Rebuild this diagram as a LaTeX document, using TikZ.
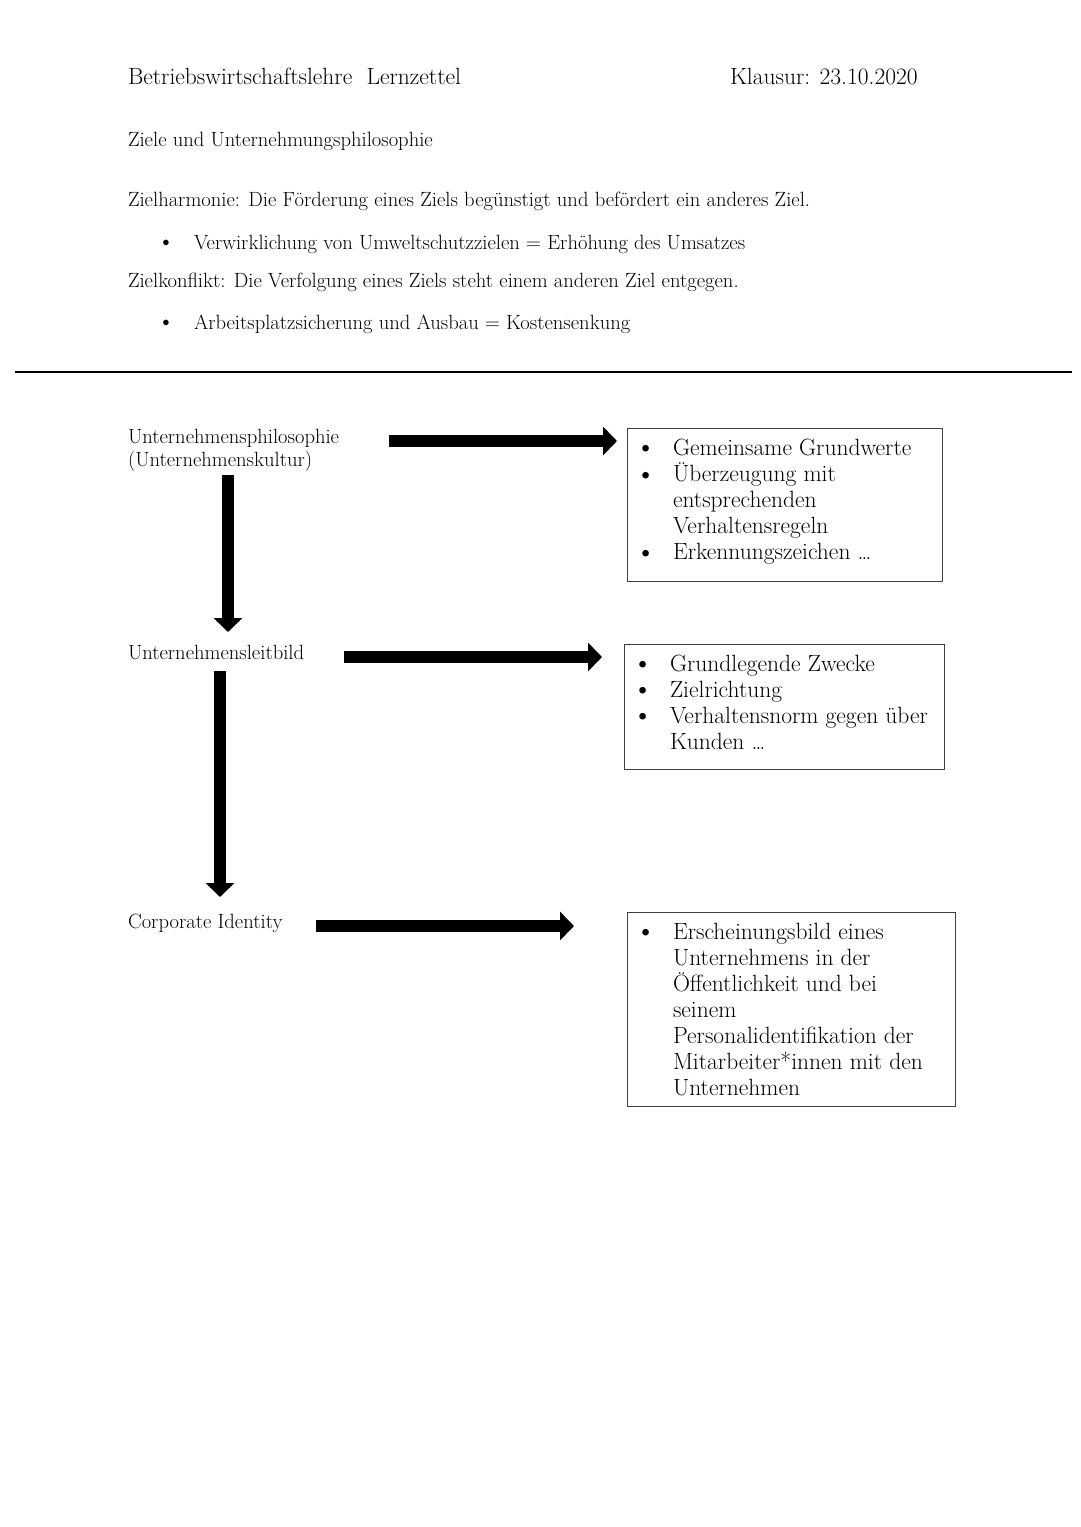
\documentclass[tikz,border=0pt]{standalone}
\usetikzlibrary{arrows.meta}
\newcommand\bigbul{\raisebox{-0.06em}{\scalebox{1.25}{\textbullet}}}
\newcommand\smbul{\raisebox{-0.04em}{\scalebox{1.2}{\textbullet}}}
\begin{document}
\begin{tikzpicture}[x=1pt,y=-1pt,
  txt/.style={anchor=base west, inner sep=0pt, outer sep=0pt, font=\fontsize{20.6}{23.5}\selectfont},
  toptxt/.style={anchor=base west, inner sep=0pt, outer sep=0pt, font=\fontsize{20.6}{24}\selectfont},
  headtxt/.style={anchor=base west, inner sep=0pt, outer sep=0pt, font=\fontsize{23.5}{27}\selectfont},
  boxtxt/.style={anchor=base west, inner sep=0pt, outer sep=0pt, font=\fontsize{23.5}{26}\selectfont},
  listbox/.style={draw=black!75, line width=1.1pt, anchor=north west, inner sep=0pt},
  bigarrow/.style={line width=12pt, -{Triangle[length=14pt,width=28pt]}}
]
\useasboundingbox (0,0) rectangle (1080,1527);
\fill[white] (0,0) rectangle (1080,1527);

% header
\node[headtxt] (title) at (128,84) {Betriebswirtschaftslehre\ \ Lernzettel};
\node[headtxt] (exam) at (730,84) {Klausur: 23.10.2020};
\node[toptxt] (topic) at (128,146) {Ziele und Unternehmungsphilosophie};
\node[toptxt] (harm) at (128,206) {Zielharmonie: Die Förderung eines Ziels begünstigt und befördert ein anderes Ziel.};
\node[toptxt] (harmex) at (157,249) {\begin{tabular}[t]{@{}p{37pt}@{}l@{}}\smbul & Verwirklichung von Umweltschutzzielen = Erhöhung des Umsatzes\end{tabular}};
\node[toptxt] (konf) at (128,287) {Zielkonflikt: Die Verfolgung eines Ziels steht einem anderen Ziel entgegen.};
\node[toptxt] (konfex) at (157,329) {\begin{tabular}[t]{@{}p{37pt}@{}l@{}}\smbul & Arbeitsplatzsicherung und Ausbau = Kostensenkung\end{tabular}};

% rule
\coordinate (ruleL) at (15,372);
\coordinate (ruleR) at (1072,372);
\draw[line width=1.3pt] (ruleL) -- (ruleR);

% left labels
\node[txt] (phil) at (128,443) {\begin{tabular}[t]{@{}l@{}}Unternehmensphilosophie\\(Unternehmenskultur)\end{tabular}};
\node[txt] (leit) at (128,659) {Unternehmensleitbild};
\node[txt] (ci) at (128,928) {Corporate Identity};

% boxes
\node[listbox, minimum width=315pt, minimum height=153pt] (b1) at (627,428) {};
\node[listbox, minimum width=320pt, minimum height=125pt] (b2) at (624,644) {};
\node[listbox, minimum width=328pt, minimum height=194pt] (b3) at (627,912) {};

\node[boxtxt] (t1) at (635,455) {\begin{tabular}[t]{@{}p{38pt}@{}l@{}}
\bigbul & Gemeinsame Grundwerte\\
\bigbul & Überzeugung mit\\
 & entsprechenden\\
 & Verhaltensregeln\\
\bigbul & Erkennungszeichen \dots
\end{tabular}};
\node[boxtxt] (t2) at (632,671) {\begin{tabular}[t]{@{}p{38pt}@{}l@{}}
\bigbul & Grundlegende Zwecke\\
\bigbul & Zielrichtung\\
\bigbul & Verhaltensnorm gegen über\\
 & Kunden \dots
\end{tabular}};
\node[boxtxt] (t3) at (635,939) {\begin{tabular}[t]{@{}p{38pt}@{}l@{}}
\bigbul & Erscheinungsbild eines\\
 & Unternehmens in der\\
 & Öffentlichkeit und bei\\
 & seinem\\
 & Personalidentifikation der\\
 & Mitarbeiter*innen mit den\\
 & Unternehmen
\end{tabular}};

% arrow coordinates
\coordinate (h1s) at (389,441);
\coordinate (h1e) at (617,441);
\coordinate (h2s) at (344,657);
\coordinate (h2e) at (602,657);
\coordinate (h3s) at (316,926);
\coordinate (h3e) at (574,926);
\coordinate (v1s) at (228,475);
\coordinate (v1e) at (228,632);
\coordinate (v2s) at (220,671);
\coordinate (v2e) at (220,897);

\draw[bigarrow] (h1s) -- (h1e);
\draw[bigarrow] (h2s) -- (h2e);
\draw[bigarrow] (h3s) -- (h3e);
\draw[bigarrow] (v1s) -- (v1e);
\draw[bigarrow] (v2s) -- (v2e);
\end{tikzpicture}
\end{document}
